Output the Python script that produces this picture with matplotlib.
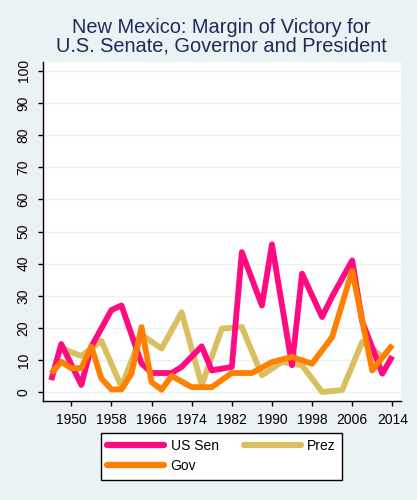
import matplotlib
matplotlib.use("Agg")
import matplotlib.pyplot as plt

plt.rcParams['font.family'] = ['Liberation Sans', 'DejaVu Sans']

# Data (margin of victory, percentage points)
sen_years = [1946, 1948, 1952, 1954, 1958, 1960, 1964, 1966, 1970, 1972, 1976, 1978,
             1982, 1984, 1988, 1990, 1994, 1996, 2000, 2002, 2006, 2008, 2012, 2014]
sen_vals = [3.8, 15.0, 2.3, 14.2, 25.6, 27.0, 9.0, 6.0, 6.0, 7.9, 14.3, 6.8,
            7.9, 43.6, 27.0, 46.0, 8.4, 36.9, 23.4, 29.8, 41.0, 22.0, 5.8, 11.2]

gov_years = [1946, 1948, 1950, 1952, 1954, 1956, 1958, 1960, 1962, 1964, 1966, 1968,
             1970, 1974, 1978, 1982, 1986, 1990, 1994, 1998, 2002, 2006, 2010, 2014]
gov_vals = [5.9, 9.5, 7.5, 7.5, 14.2, 4.3, 0.9, 0.9, 5.8, 20.3, 3.2, 0.8,
            5.1, 1.6, 1.6, 6.0, 6.0, 9.4, 11.0, 8.9, 17.2, 37.8, 6.8, 14.7]

prez_years = [1948, 1952, 1956, 1960, 1964, 1968, 1972, 1976, 1980, 1984, 1988,
              1992, 1996, 2000, 2004, 2008, 2012]
prez_vals = [13.7, 11.3, 16.0, 1.7, 17.9, 13.6, 24.9, 2.2, 19.8, 20.3, 5.3,
             9.4, 8.4, 0.1, 0.7, 15.7, 11.1]

x_ticks = [1950, 1958, 1966, 1974, 1982, 1990, 1998, 2006, 2014]
y_ticks = list(range(0, 101, 10))

title = "New Mexico: Margin of Victory for\nU.S. Senate, Governor and President"

bg = '#EAF2F3'
fig = plt.figure(figsize=(4.17, 5.00), dpi=100, facecolor=bg)
ax = fig.add_axes([42.5/417, 1-401/500, (400.7-42.5)/417, (401-61.7)/500])
ax.set_facecolor('white')

lw = 4.2
style = dict(lw=lw, solid_joinstyle='round', solid_capstyle='butt')
ax.plot(sen_years, sen_vals, color='#FF0A80', label='US Sen', zorder=3, **style)
ax.plot(gov_years, gov_vals, color='#FF8000', label='Gov', zorder=4, **style)
ax.plot(prez_years, prez_vals, color='#D9BF62', label='Prez', zorder=2, **style)

ax.set_xlim(1944.26, 2015.67)
ax.set_ylim(-2.7, 102.8)
ax.set_xticks(x_ticks)
ax.set_yticks(y_ticks)
ax.grid(axis='y', color=bg, lw=1.0, zorder=0)
ax.set_axisbelow(True)

for s in ['top', 'right']:
    ax.spines[s].set_visible(False)
for s in ['left', 'bottom']:
    ax.spines[s].set_color('black')
    ax.spines[s].set_linewidth(1.0)

ax.tick_params(axis='both', direction='out', length=3.6, width=1.0, colors='black',
               labelsize=10)
ax.tick_params(axis='x', pad=5)
ax.tick_params(axis='y', pad=5)
for lab in ax.get_yticklabels():
    lab.set_rotation(90)
    lab.set_va('center')

fig.text(221.6/417, 1-18/500, title, ha='center', va='top', fontsize=14.4,
         color='#1C2B5A', linespacing=0.95)

h, l = ax.get_legend_handles_labels()
leg = fig.legend(h, l, ncol=2,
                 loc='center', bbox_to_anchor=(221.5/417, 1-456.2/500),
                 fontsize=10, handlelength=4.1, handletextpad=0.45,
                 columnspacing=1.8, labelspacing=0.45, borderpad=0.45,
                 fancybox=False, framealpha=1, edgecolor='black', facecolor='white')
leg.get_frame().set_linewidth(1.0)
for line in leg.get_lines():
    line.set_linewidth(4.5)
    line.set_solid_capstyle('round')

fig.savefig('out.png', dpi=100, facecolor=bg)
